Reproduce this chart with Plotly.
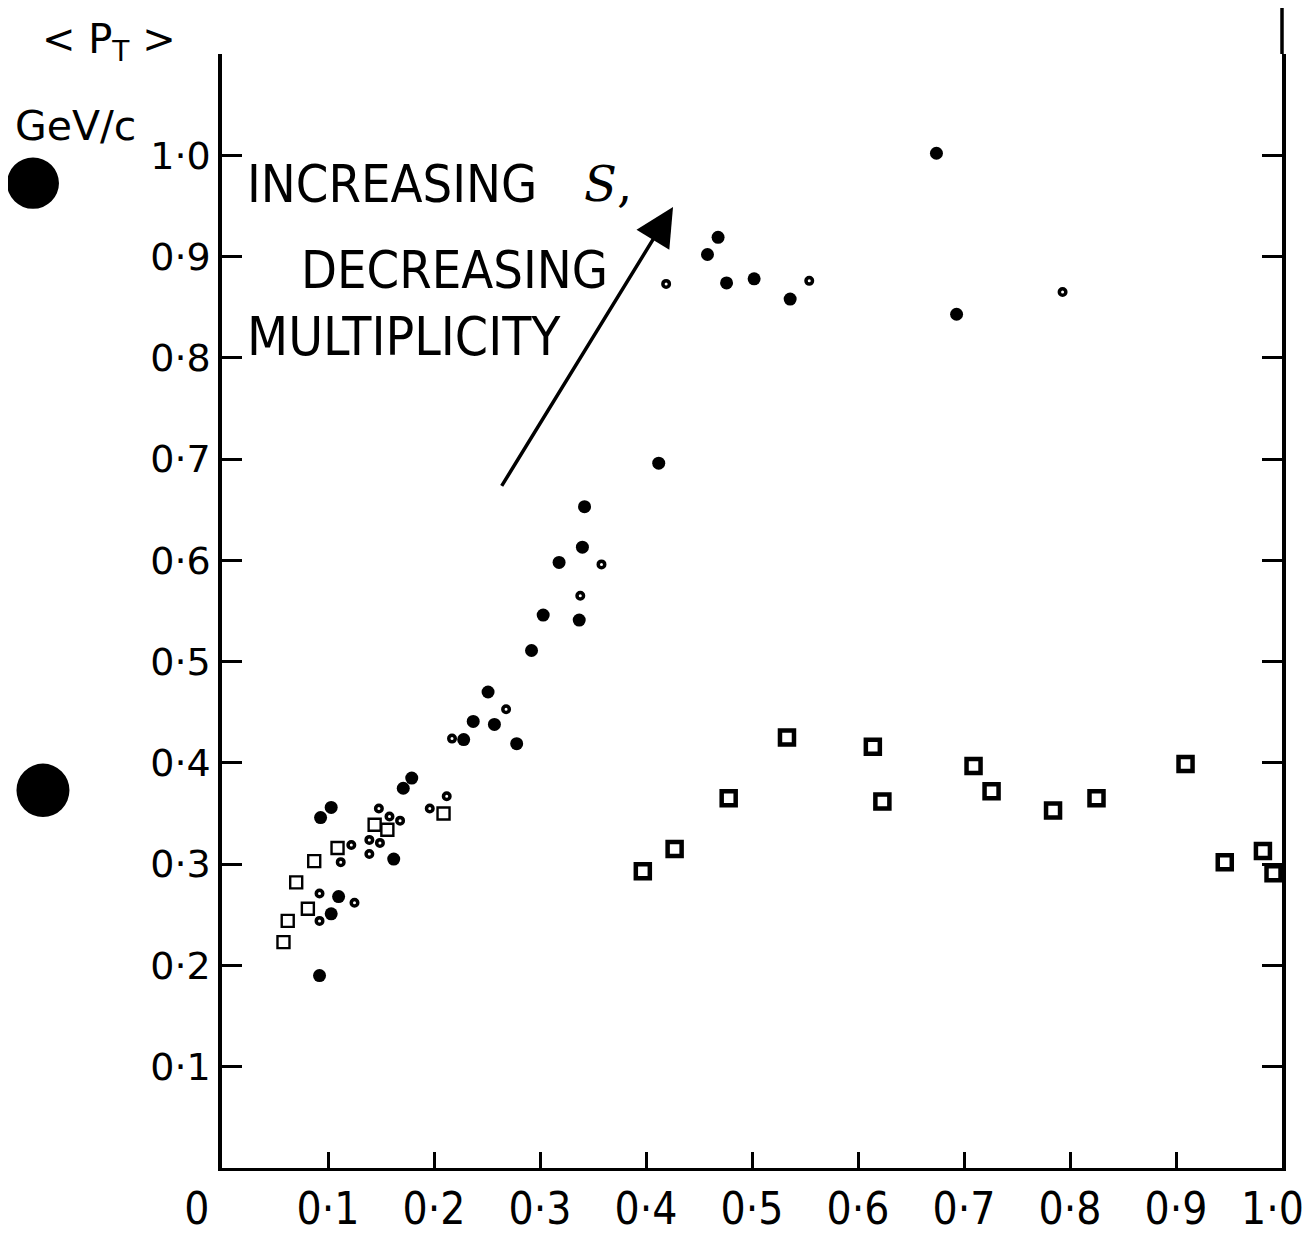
import plotly.graph_objects as go

# ---------------- data ----------------
filled_x = [0.674, 0.468, 0.458, 0.476, 0.502, 0.536, 0.693, 0.412, 0.342, 0.340,
            0.318, 0.303, 0.337, 0.292, 0.251, 0.237, 0.257, 0.228, 0.278, 0.179,
            0.171, 0.103, 0.093, 0.162, 0.110, 0.103, 0.092]
filled_y = [1.002, 0.919, 0.902, 0.874, 0.878, 0.858, 0.843, 0.696, 0.653, 0.613,
            0.598, 0.546, 0.541, 0.511, 0.470, 0.441, 0.438, 0.423, 0.419, 0.385,
            0.375, 0.356, 0.346, 0.305, 0.268, 0.251, 0.190]

open_x = [0.419, 0.554, 0.793, 0.358, 0.338, 0.268, 0.217, 0.212, 0.196, 0.148,
          0.158, 0.168, 0.139, 0.149, 0.122, 0.112, 0.139, 0.092, 0.125, 0.092]
open_y = [0.873, 0.876, 0.865, 0.596, 0.565, 0.453, 0.424, 0.367, 0.355, 0.355,
          0.347, 0.343, 0.324, 0.321, 0.319, 0.302, 0.310, 0.271, 0.262, 0.244]

sq_low_x = [0.209, 0.144, 0.156, 0.109, 0.087, 0.070, 0.081, 0.062, 0.058]
sq_low_y = [0.350, 0.339, 0.334, 0.316, 0.303, 0.282, 0.256, 0.244, 0.223]

sq_high_x = [0.397, 0.427, 0.478, 0.533, 0.614, 0.623, 0.709, 0.726, 0.784, 0.825,
             0.909, 0.946, 0.982, 0.992]
sq_high_y = [0.293, 0.315, 0.365, 0.425, 0.416, 0.362, 0.397, 0.372, 0.353, 0.365,
             0.399, 0.302, 0.313, 0.291]

x_ticks = [0.0, 0.1, 0.2, 0.3, 0.4, 0.5, 0.6, 0.7, 0.8, 0.9, 1.0]
x_tick_text = ["0\u00a0\u00a0\u00a0\u00a0", "0·1", "0·2", "0·3", "0·4", "0·5",
               "0·6", "0·7", "0·8", "0·9", ""]
x_last_label = "1·0"   # drawn as an annotation so it stays inside the page
y_ticks = [0.1, 0.2, 0.3, 0.4, 0.5, 0.6, 0.7, 0.8, 0.9, 1.0]
y_tick_text = ["0·1", "0·2", "0·3", "0·4", "0·5", "0·6", "0·7", "0·8", "0·9", "1·0"]

# annotation arrow (data coordinates)
arrow_tail = (0.263, 0.672)
arrow_head = (0.4255, 0.949)

COND = "DejaVu Sans Condensed, Liberation Sans Narrow, Liberation Sans, sans-serif"
WIDE = "DejaVu Sans, Liberation Sans, sans-serif"

fig = go.Figure()
fig.add_trace(go.Scatter(x=filled_x, y=filled_y, mode="markers", showlegend=False,
                         marker=dict(symbol="circle", size=13, color="black")))
fig.add_trace(go.Scatter(x=open_x, y=open_y, mode="markers", showlegend=False,
                         marker=dict(symbol="circle-open", size=6.5, color="black",
                                     line=dict(width=3.5, color="black"))))
fig.add_trace(go.Scatter(x=sq_low_x, y=sq_low_y, mode="markers", showlegend=False,
                         marker=dict(symbol="square-open", size=12, color="black",
                                     line=dict(width=2.4, color="black"))))
fig.add_trace(go.Scatter(x=sq_high_x, y=sq_high_y, mode="markers", showlegend=False,
                         marker=dict(symbol="square-open", size=14, color="black",
                                     line=dict(width=4.5, color="black"))))

fig.update_xaxes(range=[0, 1.0], showgrid=False, zeroline=False, automargin=False,
                 showline=True, linewidth=3, linecolor="black",
                 ticks="inside", ticklen=16, tickwidth=2.5, tickcolor="black",
                 tickvals=x_ticks, ticktext=x_tick_text, ticklabeloverflow="allow",
                 tickfont=dict(family=COND, size=44, color="black"))
fig.update_yaxes(range=[0, 1.1], showgrid=False, zeroline=False, automargin=False,
                 showline=True, linewidth=3.5, linecolor="black", mirror="ticks",
                 ticks="inside", ticklen=20, tickwidth=2.5, tickcolor="black",
                 tickvals=y_ticks, ticktext=y_tick_text, ticklabeloverflow="allow",
                 tickfont=dict(family=WIDE, size=38, color="black"))

annotations = [
    dict(x=arrow_head[0], y=arrow_head[1], ax=arrow_tail[0], ay=arrow_tail[1],
         xref="x", yref="y", axref="x", ayref="y", text="", showarrow=True,
         arrowhead=2, arrowsize=2.2, arrowwidth=3.5, arrowcolor="black"),
    dict(x=x_ticks[-1], y=-0.036, xref="x", yref="paper", text=x_last_label,
         showarrow=False, xanchor="right", yanchor="middle", xshift=24,
         font=dict(family=COND, size=44, color="black")),
    dict(x=0.022, y=0.972, xref="x", yref="y", text="INCREASING", showarrow=False,
         xanchor="left", yanchor="middle", font=dict(family=COND, size=52, color="black")),
    dict(x=0.340, y=0.972, xref="x", yref="y", text="<i>S</i>,", showarrow=False,
         xanchor="left", yanchor="middle", font=dict(family="DejaVu Serif", size=48, color="black")),
    dict(x=0.073, y=0.887, xref="x", yref="y", text="DECREASING", showarrow=False,
         xanchor="left", yanchor="middle", font=dict(family=COND, size=52, color="black")),
    dict(x=0.022, y=0.821, xref="x", yref="y", text="MULTIPLICITY", showarrow=False,
         xanchor="left", yanchor="middle", font=dict(family=COND, size=53, color="black")),
    dict(x=-0.172, y=1.011, xref="paper", yref="paper", text="&lt; P<sub>T</sub> &gt;",
         showarrow=False, xanchor="left", yanchor="middle",
         font=dict(family=WIDE, size=40, color="black")),
    dict(x=-0.197, y=0.935, xref="paper", yref="paper", text="GeV/c",
         showarrow=False, xanchor="left", yanchor="middle",
         font=dict(family=WIDE, size=41, color="black")),
]

shapes = [
    dict(type="circle", xref="paper", yref="paper", x0=-0.2028, x1=-0.1538,
         y0=0.861, y1=0.907, fillcolor="black", line=dict(width=0)),
    dict(type="circle", xref="paper", yref="paper", x0=-0.1939, x1=-0.1439,
         y0=0.315, y1=0.363, fillcolor="black", line=dict(width=0)),
    dict(type="line", xref="paper", yref="paper", x0=1, x1=1, y0=1, y1=1.045,
         line=dict(width=3.5, color="black")),
]

fig.update_layout(width=1303, height=1229, autosize=False,
                  margin=dict(l=214, r=29, t=46, b=69),
                  plot_bgcolor="white", paper_bgcolor="white",
                  annotations=annotations, shapes=shapes, showlegend=False)

fig.write_html("out.html")
